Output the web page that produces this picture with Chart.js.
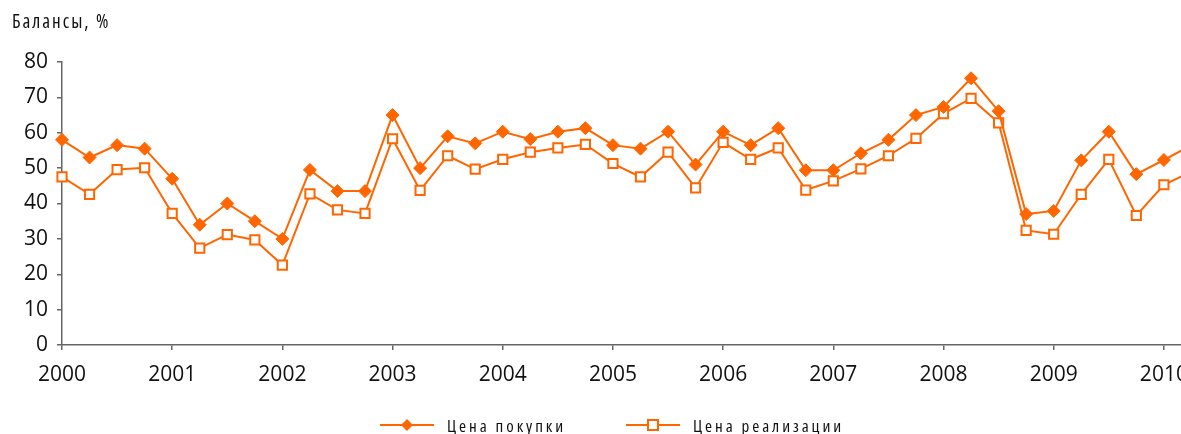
<!DOCTYPE html>
<html>
<head>
<meta charset="utf-8">
<title>Балансы</title>
<script src="https://cdn.jsdelivr.net/npm/chart.js@4.4.0/dist/chart.umd.min.js"></script>
<style>
  html, body { margin: 0; padding: 0; background: #fff; overflow: hidden; }
  #wrap { position: relative; width: 1181px; height: 434px; overflow: hidden; }
  #chart { position: absolute; left: 0; top: 0; }
  .leg { position: absolute; top: 415px; height: 20px; display: flex; align-items: center;
         font-family: "Open Sans", sans-serif; font-stretch: condensed; font-size: 17px;
         letter-spacing: 2.9px; color: #111; white-space: nowrap; }
  .leg svg { margin-right: 13px; }
</style>
</head>
<body>
<div id="wrap">
  <canvas id="chart" width="1230" height="434"></canvas>
  <div class="leg" style="left:380px">
    <svg width="54" height="14"><line x1="0" y1="7" x2="54" y2="7" stroke="#FF6600" stroke-width="2"/>
      <polygon points="27,1 33,7 27,13 21,7" fill="#FF6600"/></svg>
    <span id="leg1"></span>
  </div>
  <div class="leg" style="left:626px">
    <svg width="54" height="14"><line x1="0" y1="7" x2="54" y2="7" stroke="#FF6600" stroke-width="2"/>
      <rect x="22" y="2" width="10" height="10" fill="#fff" stroke="#FF6600" stroke-width="2"/></svg>
    <span id="leg2"></span>
  </div>
</div>
<script>
const ORANGE = '#FF6600';
const AXIS_COLOR = '#666';
const FONT = "'Open Sans', sans-serif";

const axisTitle = 'Балансы, %';
const seriesNames = ['Цена покупки', 'Цена реализации'];

// quarterly observations, first one is Q1 2000
const startYear = 2000;
const purchasePrice = [
    58, 53, 56.5, 55.5,
    47, 34, 40, 35,
    30, 49.5, 43.5, 43.5,
    65, 50, 59, 57,
    60.3, 58.2, 60.3, 61.3,
    56.5, 55.5, 60.3, 51,
    60.3, 56.5, 61.3, 49.4,
    49.4, 54.2, 58, 65,
    67.3, 75.4, 66.1, 37,
    37.9, 52.2, 60.3, 48.3,
    52.3, 56.5
];
const salesPrice = [
    47.5, 42.6, 49.6, 50.1,
    37.2, 27.4, 31.2, 29.7,
    22.6, 42.7, 38.2, 37.2,
    58.3, 43.7, 53.5, 49.7,
    52.5, 54.5, 55.7, 56.7,
    51.3, 47.5, 54.5, 44.4,
    57.3, 52.5, 55.7, 43.8,
    46.4, 49.8, 53.5, 58.4,
    65.4, 69.7, 62.8, 32.4,
    31.3, 42.6, 52.5, 36.6,
    45.3, 49
];
const yTicks = [0, 10, 20, 30, 40, 50, 60, 70, 80];
const xMin = 2000;
const xMax = 2010.6; // canvas is wider than the window, the tail is cut off like in the source

document.getElementById('leg1').textContent = seriesNames[0];
document.getElementById('leg2').textContent = seriesNames[1];

function toPoints(values) {
    return values.map((v, i) => ({ x: startYear + i / 4, y: v }));
}

const titlePlugin = {
    id: 'axisTitle',
    afterDraw(chart) {
        const ctx = chart.ctx;
        ctx.save();
        ctx.font = 'condensed 19px ' + FONT;
        ctx.letterSpacing = '2px';
        ctx.fillStyle = '#111';
        ctx.textBaseline = 'middle';
        ctx.fillText(axisTitle, 12, 23);
        ctx.restore();
    }
};

var config = {
    type: 'line',
    data: {
        datasets: [
            {
                label: seriesNames[0],
                data: toPoints(purchasePrice),
                borderColor: ORANGE,
                backgroundColor: ORANGE,
                borderWidth: 2,
                pointStyle: 'rectRot',
                pointRadius: 6.5,
                pointBorderWidth: 1,
                clip: false,
            },
            {
                label: seriesNames[1],
                data: toPoints(salesPrice),
                borderColor: ORANGE,
                backgroundColor: '#fff',
                borderWidth: 2,
                pointStyle: 'rect',
                pointRadius: 6.5,
                pointBorderWidth: 2,
                clip: false,
            }
        ]
    },
    options: {
        responsive: false,
        animation: false,
        layout: {
            autoPadding: false,
            padding: { top: 62, left: 12, right: 0, bottom: 0 }
        },
        plugins: {
            legend: { display: false },
            title: { display: false },
            tooltip: { enabled: false }
        },
        scales: {
            x: {
                type: 'linear',
                min: xMin,
                max: xMax,
                border: { display: true, color: AXIS_COLOR, width: 1.5 },
                grid: { display: true, drawOnChartArea: false, drawTicks: true, tickLength: 5, color: AXIS_COLOR, lineWidth: 1.5 },
                ticks: {
                    stepSize: 1,
                    includeBounds: false,
                    autoSkip: false,
                    maxRotation: 0,
                    padding: 12,
                    color: '#111',
                    font: { family: FONT, size: 21, style: 'condensed' },
                    callback: (v) => String(v)
                },
                afterFit(scale) {
                    scale.height = 89;
                    scale.paddingLeft = 0;
                    scale.paddingRight = 0;
                }
            },
            y: {
                min: 0,
                max: 80,
                afterBuildTicks(scale) {
                    scale.ticks = yTicks.map(v => ({ value: v }));
                },
                border: { display: true, color: AXIS_COLOR, width: 1.5 },
                grid: { display: true, drawOnChartArea: false, drawTicks: true, tickLength: 5, color: AXIS_COLOR, lineWidth: 1.5 },
                ticks: {
                    padding: 9,
                    color: '#111',
                    font: { family: FONT, size: 21, style: 'condensed' }
                },
                afterFit(scale) {
                    scale.width = 50;
                }
            }
        }
    },
    plugins: [titlePlugin]
};

new Chart(
    document.getElementById('chart'),
    config,
);
</script>
</body>
</html>
